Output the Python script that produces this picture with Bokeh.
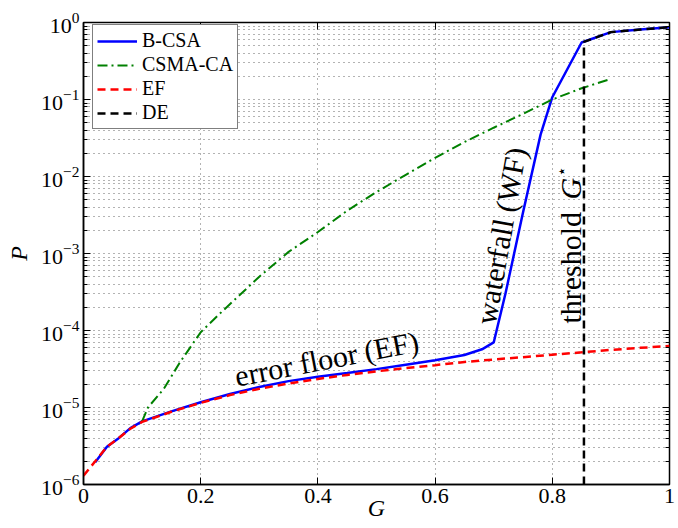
import math
from bokeh.plotting import figure
from bokeh.models import (LogAxis, LinearAxis, FixedTicker, Legend, LegendItem, Label,
                          CustomJSTickFormatter)
from bokeh.embed import file_html
from bokeh.resources import INLINE

# ---------------- data ----------------
g_bcsa = [0.02, 0.04, 0.06, 0.08, 0.10, 0.15, 0.20, 0.25, 0.30, 0.35, 0.40, 0.45, 0.50,
          0.55, 0.60, 0.65, 0.68, 0.70, 0.72, 0.75, 0.78, 0.80, 0.85, 0.90, 0.95, 1.00]
p_bcsa = [1.95e-6, 3.1e-6, 4.0e-6, 5.4e-6, 6.6e-6, 8.9e-6, 1.17e-5, 1.5e-5, 1.85e-5, 2.2e-5,
          2.5e-5, 2.8e-5, 3.15e-5, 3.6e-5, 4.1e-5, 4.8e-5, 5.7e-5, 7.0e-5, 3.0e-4, 3.4e-3,
          3.5e-2, 0.107, 0.55, 0.75, 0.81, 0.87]

g_csma = [0.10, 0.11, 0.137, 0.165, 0.20, 0.236, 0.30, 0.35, 0.40, 0.45, 0.50, 0.55, 0.60,
          0.65, 0.70, 0.75, 0.80, 0.85, 0.90]
p_csma = [6.6e-6, 1.0e-5, 1.75e-5, 3.9e-5, 9.5e-5, 1.75e-4, 5.0e-4, 1.05e-3, 1.9e-3, 3.6e-3,
          6.3e-3, 1.05e-2, 1.75e-2, 2.8e-2, 4.3e-2, 6.5e-2, 0.10, 0.14, 0.185]

g_ef = [0.0, 0.02, 0.04, 0.06, 0.08, 0.10, 0.15, 0.20, 0.25, 0.30, 0.35, 0.40, 0.45, 0.50,
        0.55, 0.60, 0.65, 0.70, 0.75, 0.80, 0.85, 0.90, 0.95, 1.00]
p_ef = [1.3e-6, 2.0e-6, 3.1e-6, 4.0e-6, 5.3e-6, 6.5e-6, 8.8e-6, 1.15e-5, 1.45e-5, 1.75e-5,
        2.05e-5, 2.35e-5, 2.65e-5, 2.95e-5, 3.25e-5, 3.55e-5, 3.9e-5, 4.2e-5, 4.5e-5, 4.85e-5,
        5.2e-5, 5.6e-5, 5.95e-5, 6.3e-5]

g_de = [0.854, 0.854, 0.90, 0.95, 1.00]
p_de = [1e-6, 0.56, 0.75, 0.81, 0.87]

series_names = ["B-CSA", "CSMA-CA", "EF", "DE"]

x_ticks = [0.0, 0.2, 0.4, 0.6, 0.8, 1.0]
x_tick_labels = ["0", "0.2", "0.4", "0.6", "0.8", "1"]
y_ticks = [1e-6, 1e-5, 1e-4, 1e-3, 1e-2, 1e-1, 1.0]
y_minor = [m * t for t in y_ticks[:-1] for m in range(2, 10)]

SERIF = "Liberation Serif"

# ---------------- figure ----------------
p = figure(width=678, height=528, y_axis_type="log", x_range=(0, 1), y_range=(1e-6, 1),
           output_backend="svg", toolbar_location=None,
           min_border_left=83, min_border_right=9, min_border_top=22, min_border_bottom=44)
p.background_fill_color = "white"
p.border_fill_color = "white"
p.outline_line_color = "black"
p.outline_line_width = 1.5

xt = FixedTicker(ticks=x_ticks)
yt = FixedTicker(ticks=y_ticks, minor_ticks=y_minor)

xa = p.xaxis[0]
xa.ticker = xt
xa.major_label_overrides = {t: l for t, l in zip(x_ticks, x_tick_labels)}
ya = p.yaxis[0]
ya.ticker = yt
for ax in (xa, ya):
    ax.major_label_text_font = SERIF
    ax.major_label_text_font_size = "22px"
    ax.major_label_text_color = "black"
    ax.major_tick_in = 7
    ax.major_tick_out = 0
    ax.minor_tick_in = 4
    ax.minor_tick_out = 0
    ax.axis_line_color = "black"
    ax.axis_line_width = 1.5
    ax.major_tick_line_color = "black"
    ax.minor_tick_line_color = "black"
    ax.axis_label_text_font = SERIF
    ax.axis_label_text_font_style = "italic"
    ax.axis_label_text_font_size = "24px"
    ax.axis_label_text_color = "black"
xa.minor_tick_line_color = None
xa.major_label_standoff = 4
xa.axis_label = "G"
xa.axis_label_standoff = -11
ya.major_label_standoff = 4
ya.axis_label = "P"
ya.axis_label_standoff = 6

ax_top = LinearAxis(ticker=xt, formatter=CustomJSTickFormatter(code="return ''"),
                    major_label_standoff=0,
                    major_tick_in=7, major_tick_out=0, minor_tick_line_color=None,
                    axis_line_color=None)
ax_right = LogAxis(ticker=yt, formatter=CustomJSTickFormatter(code="return ''"),
                   major_label_standoff=0,
                   major_tick_in=7, major_tick_out=0, minor_tick_in=4, minor_tick_out=0,
                   axis_line_color=None)
p.add_layout(ax_top, "above")
p.add_layout(ax_right, "right")

p.xgrid.ticker = xt
p.ygrid.ticker = yt
for gr in (p.xgrid[0], p.ygrid[0]):
    gr.grid_line_color = "#666666"
    gr.grid_line_dash = "1 4"
    gr.grid_line_width = 1
p.ygrid.minor_grid_line_color = "#666666"
p.ygrid.minor_grid_line_dash = "1 4"
p.ygrid.minor_grid_line_width = 1

# ---------------- lines ----------------
r1 = p.line(g_bcsa, p_bcsa, line_color="#0000ff", line_width=2.5)
r2 = p.line(g_csma, p_csma, line_color="#008000", line_width=2, line_dash="10 4 2 4")
r3 = p.line(g_ef, p_ef, line_color="#ff0000", line_width=2.5, line_dash="8 5")
r4 = p.line(g_de, p_de, line_color="black", line_width=2.5, line_dash="8 5")

legend = Legend(items=[LegendItem(label=n, renderers=[r]) for n, r in
                       zip(series_names, [r1, r2, r3, r4])],
                location=(9, 355))
legend.label_text_font = SERIF
legend.label_text_font_size = "20px"
legend.label_text_color = "black"
legend.glyph_width = 40
legend.glyph_height = 22
legend.label_height = 22
legend.label_standoff = 5
legend.spacing = 1
legend.padding = 4
legend.margin = 0
legend.border_line_color = "black"
legend.border_line_width = 1
legend.background_fill_alpha = 1
p.add_layout(legend)

# ---------------- annotations ----------------
ann = dict(text_font=SERIF, text_font_size="30px", text_color="black")
p.add_layout(Label(x=0.415, y=4.3e-5, text="error floor (EF)", angle=math.radians(11),
                   text_align="center", text_baseline="middle", **ann))
p.add_layout(Label(x=0.712, y=1.7e-3, text="waterfall (WF)", angle=math.radians(80),
                   text_align="center", text_baseline="middle", **ann))
p.add_layout(Label(x=0.831, y=1.23e-4, text="threshold", angle=math.pi / 2,
                   text_align="left", text_baseline="middle", **ann))
p.add_layout(Label(x=0.831, y=1.23e-4, y_offset=124, text="G", angle=math.pi / 2,
                   text_font_style="italic", text_align="left", text_baseline="middle",
                   **ann))
p.add_layout(Label(x=0.831, y=1.23e-4, y_offset=147, x_offset=-9, text="\u22c6",
                   angle=math.pi / 2, text_font="DejaVu Sans", text_font_size="16px",
                   text_color="black", text_align="left", text_baseline="middle"))

open("out.html", "w").write(file_html(p, INLINE))
